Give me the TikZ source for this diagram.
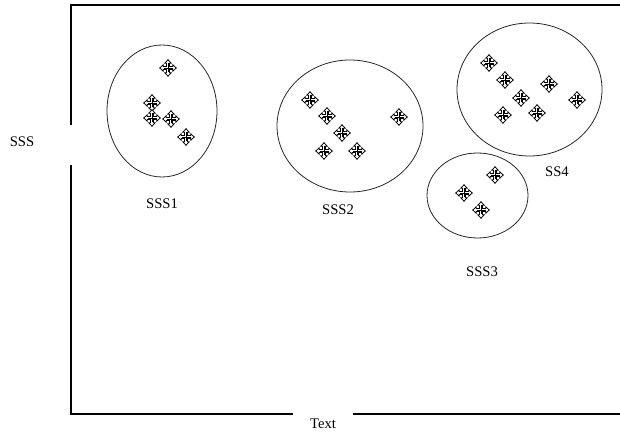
\documentclass[tikz,border=0pt]{standalone}
\usepackage{fontspec}
\setmainfont{Liberation Serif}
\begin{document}
\begin{tikzpicture}[x=0.75pt,y=-0.75pt,
  frame/.style={line width=0.9pt},
  cluster/.style={line width=0.6pt, draw=black!85},
  lbl/.style={font=\fontsize{11}{13}\selectfont, inner sep=0pt},
  crossmark/.pic={
    \draw[line width=0.55pt, fill=white, line join=miter]
      (1.4,1.4) -- (4.8,1.4) -- (4.8,3.2) -- (8.3,0) -- (4.8,-3.2) -- (4.8,-1.4) --
      (1.4,-1.4) -- (1.4,-4.8) -- (3.2,-4.8) -- (0,-8.3) -- (-3.2,-4.8) -- (-1.4,-4.8) --
      (-1.4,-1.4) -- (-4.8,-1.4) -- (-4.8,-3.2) -- (-8.3,0) -- (-4.8,3.2) -- (-4.8,1.4) --
      (-1.4,1.4) -- (-1.4,4.8) -- (-3.2,4.8) -- (0,8.3) -- (3.2,4.8) -- (1.4,4.8) -- cycle;
    \draw[line width=0.4pt] (-4.5,0) -- (4.5,0) (0,-4.5) -- (0,4.5);
  }]
\useasboundingbox (0,0) rectangle (620,434);
% axes labels
\node[lbl] (ylab) at (22,142) {SSS};
\node[lbl] (xlab) at (323,424) {Text};
% frame
\coordinate (tl) at (71,5);
\coordinate (tr) at (620,5);
\coordinate (bl) at (71,414);
\coordinate (br) at (620,414);
\coordinate (gapTop) at (71,125);
\coordinate (gapBot) at (71,165);
\coordinate (gapL) at (293,414);
\coordinate (gapR) at (353,414);
\draw[frame] (gapTop) -- (tl) -- (tr);
\draw[frame] (gapBot) -- (bl) -- (gapL);
\draw[frame] (gapR) -- (br);
% clusters
\draw[cluster] (162,111) ellipse [x radius=55, y radius=66];
\draw[cluster] (350,126) ellipse [x radius=73, y radius=66];
\draw[cluster] (529.5,89.5) ellipse [x radius=72.5, y radius=66.5];
\draw[cluster] (477.5,195.5) ellipse [x radius=50.5, y radius=42.5];
% cluster labels
\node[lbl] (l1) at (162,204) {SSS1};
\node[lbl] (l2) at (338,210) {SSS2};
\node[lbl] (l4) at (557,172) {SS4};
\node[lbl] (l3) at (482,272) {SSS3};
% points SSS1
\foreach \p in {(168,68),(152,103),(152,118),(171,119),(186,137)}
  \pic at \p {crossmark};
% points SSS2
\foreach \p in {(310,100),(327,116),(342,133),(324,151),(357,151),(399,117)}
  \pic at \p {crossmark};
% points SS4
\foreach \p in {(489,63),(505,80),(521,98),(549,84),(577,100),(503,115),(537,113)}
  \pic at \p {crossmark};
% points SSS3
\foreach \p in {(495,175),(464,193),(481,210)}
  \pic at \p {crossmark};
\end{tikzpicture}
\end{document}
